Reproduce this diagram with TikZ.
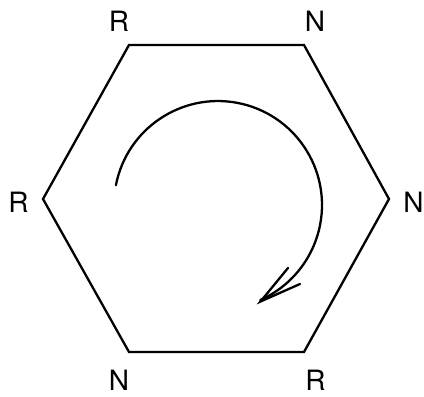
\documentclass[tikz,border=0pt]{standalone}
\usepackage{fontspec}
\setmainfont{TeX Gyre Heros}
\begin{document}
\begin{tikzpicture}[x=1pt,y=-1pt,
  edge/.style={line width=2.3pt, line join=miter},
  lbl/.style={inner sep=0pt, font=\fontsize{28}{32}\selectfont}]
\useasboundingbox (0,0) rectangle (424,397);
% hexagon vertices
\coordinate (v1) at (129,45);
\coordinate (v2) at (304,45);
\coordinate (v3) at (389,199);
\coordinate (v4) at (304,352);
\coordinate (v5) at (129,352);
\coordinate (v6) at (43,199);
\draw[edge] (v1) -- (v2) -- (v3) -- (v4) -- (v5) -- (v6) -- cycle;
% labels
\node[lbl] (l1) at (119,21) {R};
\node[lbl] (l2) at (315,21) {N};
\node[lbl] (l3) at (413.5,202.5) {N};
\node[lbl] (l4) at (315.5,380) {R};
\node[lbl] (l5) at (119,380) {N};
\node[lbl] (l6) at (18.5,202.5) {R};
% circular arrow
\coordinate (s) at (115.9,185.2);
\coordinate (tip) at (260.5,301.5);
\coordinate (b1) at (288,268);
\coordinate (b2) at (300,284);
\draw[edge, line cap=round] (s) arc[start angle=-169, end angle=66, radius=104];
\draw[edge, line cap=round] (b1) -- (tip) -- (b2);
\end{tikzpicture}
\end{document}
